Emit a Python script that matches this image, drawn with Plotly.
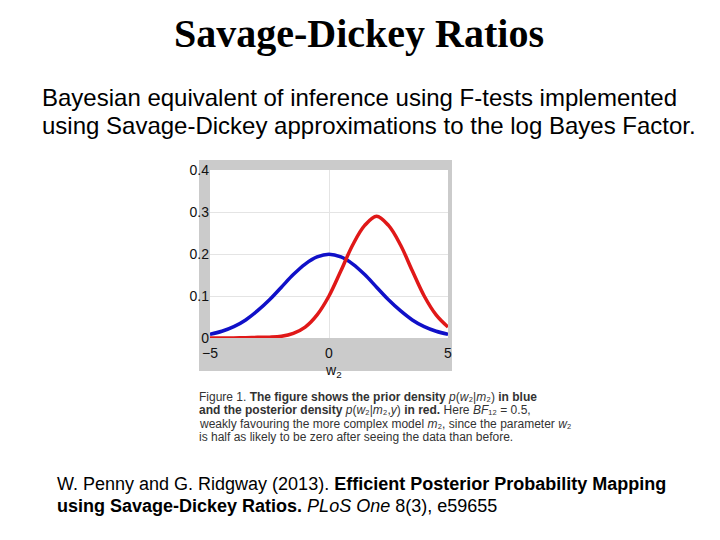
import plotly.graph_objects as go

# ---- data ----
w2 = [-5, -4.5, -4, -3.5, -3, -2.5, -2, -1.5, -1, -0.5, 0, 0.5, 1, 1.5, 2, 2.5, 3, 3.5, 4, 4.5, 5]
prior = [0.009, 0.016, 0.027, 0.043, 0.065, 0.091, 0.121, 0.151, 0.176, 0.193, 0.1995,
         0.193, 0.176, 0.151, 0.121, 0.091, 0.065, 0.043, 0.027, 0.016, 0.009]
posterior = [0.0, 0.0, 0.0002, 0.0008, 0.0015, 0.002, 0.004, 0.011, 0.026, 0.055, 0.100,
             0.160, 0.222, 0.268, 0.290, 0.268, 0.222, 0.160, 0.100, 0.055, 0.026]
x_ticks = [-5, 0, 5]
y_ticks = [0, 0.1, 0.2, 0.3, 0.4]
y_tick_text = ["0", "0.1", "0.2", "0.3", "0.4"]

W, H = 720, 540
L, R, T, B = 210, 448, 170, 338


def px(x):
    return (x - L) / (R - L)


def py(y):
    return (B - y) / (B - T)


fig = go.Figure()
fig.add_trace(go.Scatter(x=w2, y=prior, mode="lines", line=dict(color="#1010c8", width=3.5, shape="spline"),
                         showlegend=False))
fig.add_trace(go.Scatter(x=w2, y=posterior, mode="lines", line=dict(color="#e01818", width=3.5, shape="spline"),
                         showlegend=False))

shapes = [
    dict(type="rect", xref="paper", yref="paper", x0=px(199), x1=px(452), y0=py(371), y1=py(160),
         fillcolor="#cbcbcb", line=dict(width=0), layer="below"),
    dict(type="rect", xref="paper", yref="paper", x0=0, x1=1, y0=0, y1=1,
         fillcolor="white", line=dict(width=0), layer="below"),
]

ann = []
ann.append(dict(text="<b>Savage-Dickey Ratios</b>", x=px(359), y=py(33), xref="paper", yref="paper",
                showarrow=False, xanchor="center", yanchor="middle",
                font=dict(family="Liberation Serif", size=40, color="black")))
for i, line in enumerate(["Bayesian equivalent of inference using F-tests implemented",
                          "using Savage-Dickey approximations to the log Bayes Factor."]):
    ann.append(dict(text=line, x=px(40), y=py(97 + 28 * i), xref="paper", yref="paper",
                    showarrow=False, xanchor="left", yanchor="middle",
                    font=dict(family="Liberation Sans", size=24, color="black")))
# axis label w2
ann.append(dict(text="w<sub>2</sub>", x=px(333), y=py(360), xref="paper", yref="paper",
                showarrow=False, xanchor="center", yanchor="top",
                font=dict(family="Liberation Sans", size=14, color="#111")))
cap = [
    "Figure 1. <b>The figure shows the prior density</b> <i>p</i>(<i>w</i>₂|<i>m</i>₂) <b>in blue</b>",
    "<b>and the posterior density</b> <i>p</i>(<i>w</i>₂|<i>m</i>₂,<i>y</i>) <b>in red.</b> Here <i>BF</i>₁₂ = 0.5,",
    "weakly favouring the more complex model <i>m</i>₂, since the parameter <i>w</i>₂",
    "is half as likely to be zero after seeing the data than before.",
]
for i, line in enumerate(cap):
    ann.append(dict(text=line, x=px(197), y=py(397 + 13.4 * i), xref="paper", yref="paper",
                    showarrow=False, xanchor="left", yanchor="middle",
                    font=dict(family="Liberation Sans", size=12, color="#333333")))
cit = [
    "W. Penny and G. Ridgway (2013). <b>Efficient Posterior Probability Mapping</b>",
    "<b>using Savage-Dickey Ratios.</b> <i>PLoS One</i> 8(3), e59655",
]
for i, line in enumerate(cit):
    ann.append(dict(text=line, x=px(55), y=py(484 + 22 * i), xref="paper", yref="paper",
                    showarrow=False, xanchor="left", yanchor="middle",
                    font=dict(family="Liberation Sans", size=18, color="black")))

fig.update_layout(
    width=W, height=H,
    margin=dict(l=L, r=W - R, t=T, b=H - B, pad=0),
    paper_bgcolor="white", plot_bgcolor="white",
    shapes=shapes, annotations=ann,
    xaxis=dict(range=[-5, 5], tickvals=x_ticks, ticks="", showgrid=True, gridcolor="#e4e4e4",
               zeroline=False, showline=False, ticklabelstandoff=5,
               tickfont=dict(family="Liberation Sans", size=14, color="#111")),
    yaxis=dict(range=[0, 0.4], tickvals=y_ticks, ticktext=y_tick_text, ticks="", showgrid=True,
               gridcolor="#e4e4e4", zeroline=False, showline=False,
               tickfont=dict(family="Liberation Sans", size=14, color="#111")),
)

fig.write_html("out.html")
